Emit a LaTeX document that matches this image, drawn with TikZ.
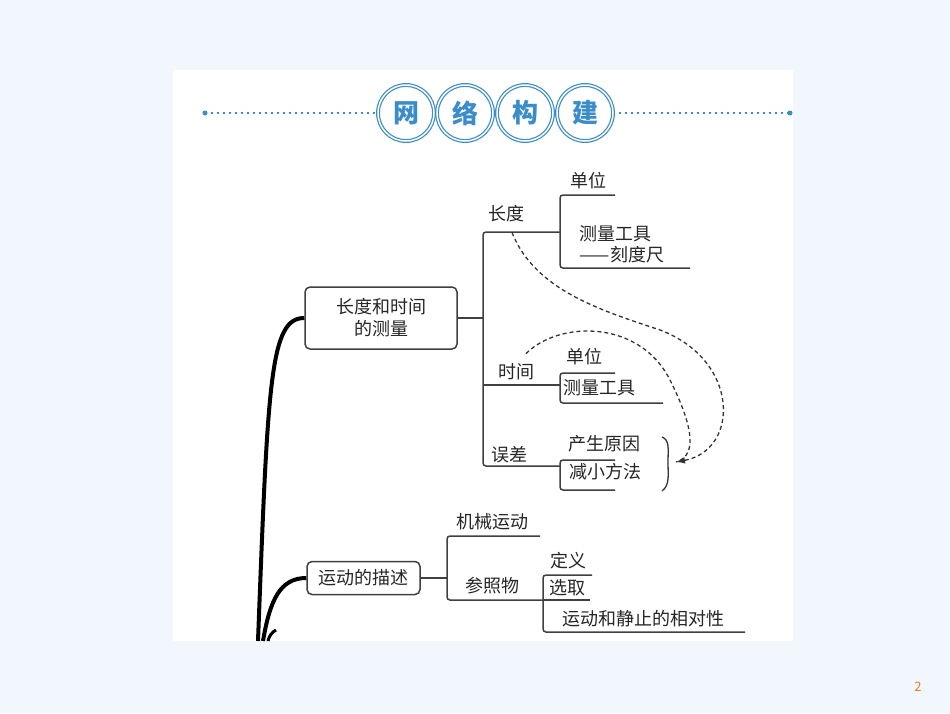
\documentclass[tikz,border=0pt]{standalone}
\usepackage{fontspec}
\setmainfont{Noto Sans CJK SC}
\usetikzlibrary{arrows.meta}
\definecolor{bg}{HTML}{F1F7FC}
\definecolor{hb}{HTML}{3A8CCB}
\begin{document}
\begin{tikzpicture}[x=1pt,y=-1pt,
  lbl/.style={font=\fontsize{18}{21}\selectfont,inner sep=0pt,anchor=center,text=black!85},
  br/.style={line width=1.5pt,draw=black!75,rounded corners=3pt},
  box/.style={draw=black!75,line width=1.5pt,rounded corners=5pt,font=\fontsize{18}{22}\selectfont,align=center,inner sep=0pt,text=black!85},
  spine/.style={line width=4pt,black},
  dsh/.style={dash pattern=on 4pt off 3pt,line width=1.3pt,black!80},
  ring/.style={circle,draw=hb,double=white,double distance=1.5pt,line width=1.2pt,fill=white,minimum size=56pt,inner sep=0pt,text=hb,font=\fontsize{26}{26}\selectfont\bfseries}]
\fill[bg] (0,0) rectangle (950,713);
\useasboundingbox (0,0) rectangle (950,713);
\fill[white] (173,70) rectangle (793,641);
% header
\coordinate (hl) at (205,113); \coordinate (hr) at (790,113);
\draw[hb,line width=2pt,dash pattern=on 2pt off 4pt] (hl) -- (hr);
\fill[hb] (hl) circle (2.5pt) (hr) circle (2.5pt);
\node[ring] (c1) at (406,113) {网};
\node[ring] (c2) at (465,113) {络};
\node[ring] (c3) at (525,113) {构};
\node[ring] (c4) at (585,113) {建};
% boxes
\node[box,minimum width=152pt,minimum height=62pt] (b1) at (381,318) {长度和时间\\的测量};
\node[box,minimum width=113pt,minimum height=33pt] (b2) at (363.5,578) {运动的描述};
% spine
\coordinate (s1) at (258,641); \coordinate (s2) at (263,641); \coordinate (s3) at (268,641);
\draw[spine] (s1) .. controls (268,380) and (270,318) .. (b1.west);
\draw[spine] (s2) .. controls (270,600) and (280,578) .. (b2.west);
\draw[spine,line width=3pt] (s3) .. controls (269,636) and (272,632) .. (276,630);
% level 1 upper
\coordinate (j1) at (483,318);
\draw[br] (b1.east) -- (j1);
\draw[br] (560,232) -- (483,232) -- (483,466) -- (560,466);
\draw[br] (483,385) -- (560,385);
\node[lbl] (len) at (506,214) {长度};
\node[lbl] (tim) at (516,372) {时间};
\node[lbl] (err) at (509,455) {误差};
\draw[br] (615,195) -- (560,195) -- (560,268) -- (690,268);
\node[lbl] (u1) at (588,181) {单位};
\node[lbl,align=left] (m1) at (622,244) {测量工具\\——刻度尺};
\draw[br] (615,373) -- (560,373) -- (560,403) -- (663,403);
\node[lbl] (u2) at (584,357) {单位};
\node[lbl] (m2) at (599,388) {测量工具};
\draw[br] (615,460) -- (560,460) -- (560,490) -- (615,490);
\node[lbl] (r1) at (604,444) {产生原因};
\node[lbl] (r2) at (605,472) {减小方法};
\draw[line width=1.3pt,black!80] (662,437) .. controls (670,440) and (668,450) .. (668,462) .. controls (668,475) and (670,485) .. (662,491);
\coordinate (tip) at (676,462);
\draw[dsh,-{Latex[length=9pt]}] (len.south) ++(6,10) .. controls (535,290) and (600,310) .. (660,330) .. controls (740,360) and (740,450) .. (tip);
\draw[dsh] (tim.north) ++(10,-10) .. controls (560,320) and (640,320) .. (670,380) .. controls (690,420) and (700,455) .. (tip);
% level 1 lower
\draw[br] (b2.east) -- (447,578);
\draw[br] (540,536) -- (447,536) -- (447,600) -- (543,600);
\node[lbl] (mech) at (492,522) {机械运动};
\node[lbl] (ref) at (492,586) {参照物};
\draw[br] (592,575) -- (543,575) -- (543,632) -- (745,632);
\draw[br] (543,600) -- (590,600);
\node[lbl] (d1) at (568,561) {定义};
\node[lbl] (d2) at (567,588) {选取};
\node[lbl] (d3) at (643,619) {运动和静止的相对性};
\node[font=\fontsize{13}{13}\selectfont,text=orange!70!brown] (pg) at (918,687) {2};
\end{tikzpicture}
\end{document}
